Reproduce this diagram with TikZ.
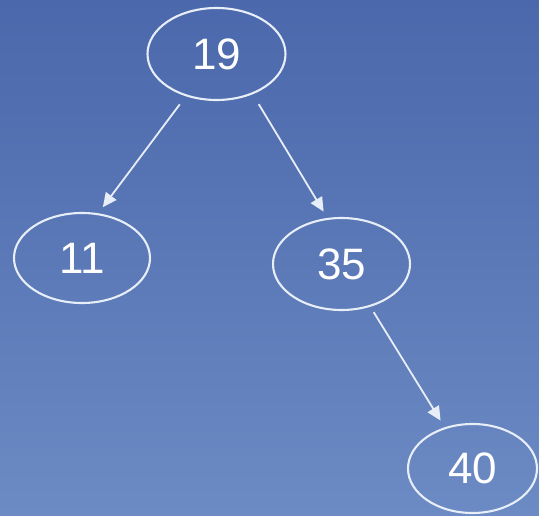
\documentclass[tikz,border=0pt]{standalone}
\usepackage{fontspec}
\setmainfont{Liberation Sans}
\usetikzlibrary{shapes.geometric,arrows.meta}
\definecolor{bgtop}{HTML}{4A68AB}
\definecolor{bgbot}{HTML}{6C8AC3}
\definecolor{lineclr}{HTML}{E8EEF8}
\tikzset{
  treenode/.style={ellipse, draw=lineclr, line width=2.1pt, text=white,
    inner sep=0pt, font=\fontsize{44}{44}\selectfont},
  treeedge/.style={draw=lineclr, line width=1.8pt, -{Triangle[length=14pt,width=13pt]}}
}
\begin{document}
\begin{tikzpicture}[x=1pt,y=1pt]
\shade[top color=bgtop, bottom color=bgbot] (0,0) rectangle (539,515);
\useasboundingbox (0,0) rectangle (539,515);
\node[treenode, minimum width=138pt, minimum height=92pt] (n19) at (216.5,461) {19};
\node[treenode, minimum width=136pt, minimum height=90pt] (n11) at (82,257) {11};
\node[treenode, minimum width=137pt, minimum height=92pt] (n35) at (341.5,251) {35};
\node[treenode, minimum width=129pt, minimum height=89pt] (n40) at (472.5,46.5) {40};
\draw[treeedge, shorten <=10pt, shorten >=7.6pt] (n19.234.6) -- (n11.70.6);
\draw[treeedge, shorten <=11.6pt, shorten >=7.4pt] (n19.312.2) -- (n35.107.6);
\draw[treeedge, shorten <=6.3pt, shorten >=7.8pt] (n35.304.7) -- (n40.124.9);
\end{tikzpicture}
\end{document}
